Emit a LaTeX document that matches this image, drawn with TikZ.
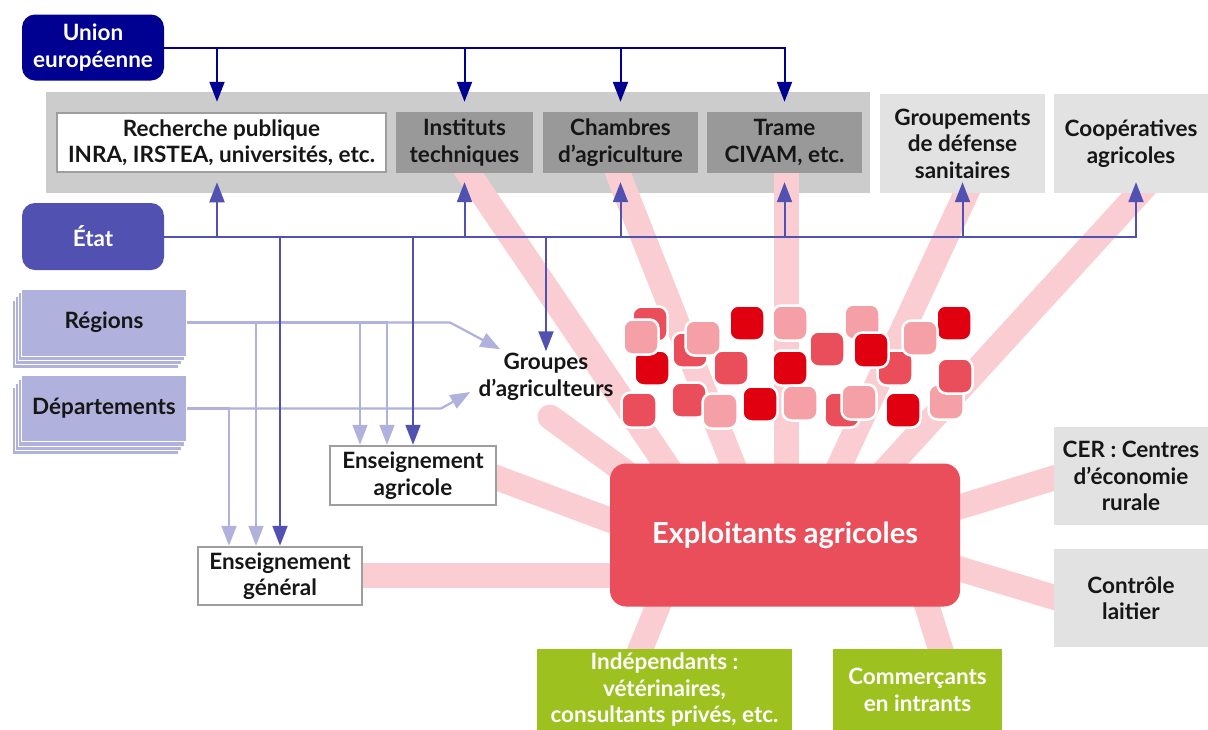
\documentclass[tikz,border=0pt]{standalone}
\usepackage{fontspec}
\setmainfont{Lato}
\usetikzlibrary{arrows.meta,calc}
\definecolor{ueblue}{RGB}{0,0,145}
\definecolor{etblue}{RGB}{81,81,178}
\definecolor{lpurple}{RGB}{177,177,222}
\definecolor{bandgray}{RGB}{204,204,204}
\definecolor{midgray}{RGB}{153,153,153}
\definecolor{lgray}{RGB}{226,226,226}
\definecolor{bordgray}{RGB}{158,158,158}
\definecolor{raypink}{RGB}{249,205,209}
\definecolor{exred}{RGB}{233,78,90}
\definecolor{bdark}{RGB}{225,0,15}
\definecolor{bmed}{RGB}{234,78,91}
\definecolor{blight}{RGB}{244,160,166}
\definecolor{agreen}{RGB}{157,193,31}
\definecolor{txt}{RGB}{22,22,22}
\pgfdeclarelayer{bgzero}
\pgfdeclarelayer{bgone}
\pgfsetlayers{bgzero,bgone,main}
\begin{document}
\begin{tikzpicture}[x=1pt,y=-1pt,
  box/.style={rectangle, inner sep=0pt, align=center, text=txt,
    font=\fontsize{22.5}{26.5}\selectfont\bfseries},
  wbox/.style={box, fill=white, draw=bordgray, line width=2.5pt},
  gbox/.style={box, fill=midgray},
  lbox/.style={box, fill=lgray},
  rbox/.style={box, rounded corners=13pt, text=white},
  pbox/.style={box, fill=lpurple, draw=white, line width=1pt},
  grbox/.style={box, fill=agreen, text=white},
  ray/.style={draw=raypink, line width=25pt},
  uarr/.style={draw=ueblue, line width=2pt, -{Triangle[width=15pt,length=20pt]}},
  earr/.style={draw=etblue, line width=2pt, -{Triangle[width=15pt,length=20pt]}},
  larr/.style={draw=lpurple, line width=2.2pt, -{Triangle[width=15pt,length=20pt]}},
  blob/.style={rectangle, rounded corners=9pt, minimum size=35pt, inner sep=0pt, draw=white, line width=2.5pt},
]
\useasboundingbox (0,0) rectangle (1208,729);

% ---------- nodes ----------
\node[rbox, fill=ueblue, minimum width=142pt, minimum height=66pt] (ue) at (93,47.5) {Union\\européenne};
\node[rbox, fill=etblue, minimum width=142pt, minimum height=67pt] (etat) at (93,236.5) {État};

\node[wbox, minimum width=329pt, minimum height=59pt] (rp) at (221.5,142.5) {Recherche publique\\INRA, IRSTEA, universités, etc.};
\node[gbox, minimum width=137pt, minimum height=61pt] (it) at (464.5,142.5) {Instituts\\techniques};
\node[gbox, minimum width=155pt, minimum height=61pt] (ch) at (620.5,142.5) {Chambres\\d’agriculture};
\node[gbox, minimum width=155pt, minimum height=61pt] (tr) at (784.5,142.5) {Trame\\CIVAM, etc.};
\node[lbox, minimum width=165pt, minimum height=99pt] (gds) at (962.5,143.5) {Groupements\\de défense\\sanitaires};
\node[lbox, minimum width=154pt, minimum height=99pt] (coop) at (1131,143.5) {Coopératives\\agricoles};

\node[pbox, minimum width=165pt, minimum height=67pt] (reg) at (104,322.5) {Régions};
\node[pbox, minimum width=165pt, minimum height=66pt] (dep) at (104,408.5) {Départements};

\node[box, inner sep=2pt] (ga) at (546,377) {Groupes\\d’agriculteurs};
\node[wbox, minimum width=166pt, minimum height=59pt] (eagri) at (413,475.5) {Enseignement\\agricole};
\node[wbox, minimum width=164pt, minimum height=58pt] (egen) at (280,576) {Enseignement\\général};

\node[rbox, fill=exred, rounded corners=16pt, minimum width=350pt, minimum height=143pt,
  font=\fontsize{29}{33}\selectfont\bfseries] (ex) at (785,535) {Exploitants agricoles};

\node[grbox, minimum width=255pt, minimum height=82pt] (ind) at (664.5,690) {Indépendants~:\\vétérinaires,\\consultants privés, etc.};
\node[grbox, minimum width=169pt, minimum height=82pt] (com) at (917.5,690) {Commerçants\\en intrants};
\node[lbox, minimum width=154pt, minimum height=98pt] (cer) at (1131,476) {CER~: Centres\\d’économie\\rurale};
\node[lbox, minimum width=154pt, minimum height=98pt] (cl) at (1131,598) {Contrôle\\laitier};

% ---------- background band and stacks ----------
\begin{pgfonlayer}{bgzero}
\node[fill=bandgray, inner sep=0pt, minimum width=824pt, minimum height=101pt] (band) at (458,142.5) {};
\foreach \k in {3,2,1}{
  \filldraw[fill=lpurple, draw=white, line width=1pt]
    ($(reg.south west)+(-3*\k,4*\k)$) rectangle ($(reg.north east)+(-3*\k,4*\k)$);
  \filldraw[fill=lpurple, draw=white, line width=1pt]
    ($(dep.south west)+(-3*\k,4*\k)$) rectangle ($(dep.north east)+(-3*\k,4*\k)$);
}
\end{pgfonlayer}

% ---------- pink rays ----------
\begin{pgfonlayer}{bgone}
\draw[ray] ($(it.south)+(-9.5,-20)$) -- ($(ex.center)+(-95,-35)$);
\draw[ray] ($(ch.south)+(-10.5,-20)$) -- ($(ex.center)+(-38,-35)$);
\draw[ray] ($(tr.south)+(1.5,-20)$) -- ($(ex.center)+(1,-35)$);
\draw[ray] ($(gds.south)+(13,-20)$) -- ($(ex.center)+(38.5,-35)$);
\draw[ray] ($(coop.south)+(26,-20)$) -- ($(ex.center)+(73,-35)$);
\draw[ray, line cap=round] ($(ga.center)+(4,40)$) -- ($(ex.center)+(-105,-23)$);
\draw[ray] ($(eagri.east)+(-12,-2)$) -- ($(ex.center)+(-135,0)$);
\draw[ray] ($(egen.east)+(-10,-1)$) -- ($(ex.center)+(-135,40)$);
\draw[ray] ($(ex.center)+(145,-19)$) -- ($(cer.west)+(26,-6)$);
\draw[ray] ($(ex.center)+(145,25)$) -- ($(cl.west)+(26,7)$);
\draw[ray] ($(ex.center)+(-120.5,55)$) -- ($(ind.north)+(-30.5,16)$);
\draw[ray] ($(ex.center)+(137,55)$) -- ($(com.north)+(28,16)$);
\end{pgfonlayer}

% ---------- blobs ----------
\node[blob, fill=bmed]   (b1)  at (650,324) {};
\node[blob, fill=bdark]  (b3)  at (652,368) {};
\node[blob, fill=blight] (b2)  at (641,337) {};
\node[blob, fill=bmed]   (b4)  at (639,410) {};
\node[blob, fill=bmed]   (b5)  at (690,350) {};
\node[blob, fill=blight] (b6)  at (703,338) {};
\node[blob, fill=bmed]   (b7)  at (731,368) {};
\node[blob, fill=bdark]  (b8)  at (747,323) {};
\node[blob, fill=bmed]   (b9)  at (689,400) {};
\node[blob, fill=blight] (b10) at (720,411) {};
\node[blob, fill=bdark]  (b11) at (760,404) {};
\node[blob, fill=blight] (b12) at (790,323) {};
\node[blob, fill=bdark]  (b13) at (790,368) {};
\node[blob, fill=blight] (b14) at (800,403) {};
\node[blob, fill=bmed]   (b15) at (827,349) {};
\node[blob, fill=blight] (b16) at (862,322) {};
\node[blob, fill=bmed]   (b20) at (895,368) {};
\node[blob, fill=bdark]  (b17) at (871,350) {};
\node[blob, fill=bmed]   (b18) at (842,410) {};
\node[blob, fill=blight] (b19) at (859,402) {};
\node[blob, fill=bdark]  (b22) at (954,323) {};
\node[blob, fill=blight] (b21) at (920,338) {};
\node[blob, fill=blight] (b25) at (946,402) {};
\node[blob, fill=bmed]   (b23) at (955,376) {};
\node[blob, fill=bdark]  (b24) at (903,410) {};

% ---------- light purple arrows ----------
\draw[larr] (reg.east) -- ++(263,0) -- ($(ga.north west)+(24,-2)$);
\draw[larr] (dep.east) -- ++(254,0) -- ($(ga.west)+(-6,15)$);
\draw[larr] (dep.east) -| ($(egen.north)+(-51,0)$);
\draw[larr] (reg.east) -| ($(egen.north)+(-24,0)$);
\draw[larr] (reg.east) -| ($(eagri.north)+(-53,0)$);
\draw[larr] (reg.east) -| ($(eagri.north)+(-26,0)$);

% ---------- Union europeenne arrows ----------
\draw[uarr, shorten >=10pt] (ue.east) -| ($(rp.north)+(-4.5,0)$);
\draw[uarr, shorten >=10pt] (ue.east) -| (it.north);
\draw[uarr, shorten >=10pt] (ue.east) -| (ch.north);
\draw[uarr, shorten >=10pt] (ue.east) -| (tr.north);

% ---------- Etat arrows ----------
\draw[earr, shorten >=9pt] (etat.east) -| ($(rp.south)+(-4.5,0)$);
\draw[earr, shorten >=9pt] (etat.east) -| (it.south);
\draw[earr, shorten >=9pt] (etat.east) -| (ch.south);
\draw[earr, shorten >=9pt] (etat.east) -| (tr.south);
\draw[earr, shorten >=-11pt] (etat.east) -| (gds.south);
\draw[earr, shorten >=-11pt] (etat.east) -| ($(coop.south)+(5,0)$);
\draw[earr] (etat.east) -| (egen.north);
\draw[earr] (etat.east) -| (eagri.north);
\draw[earr] (etat.east) -| (ga.north);
\end{tikzpicture}
\end{document}
